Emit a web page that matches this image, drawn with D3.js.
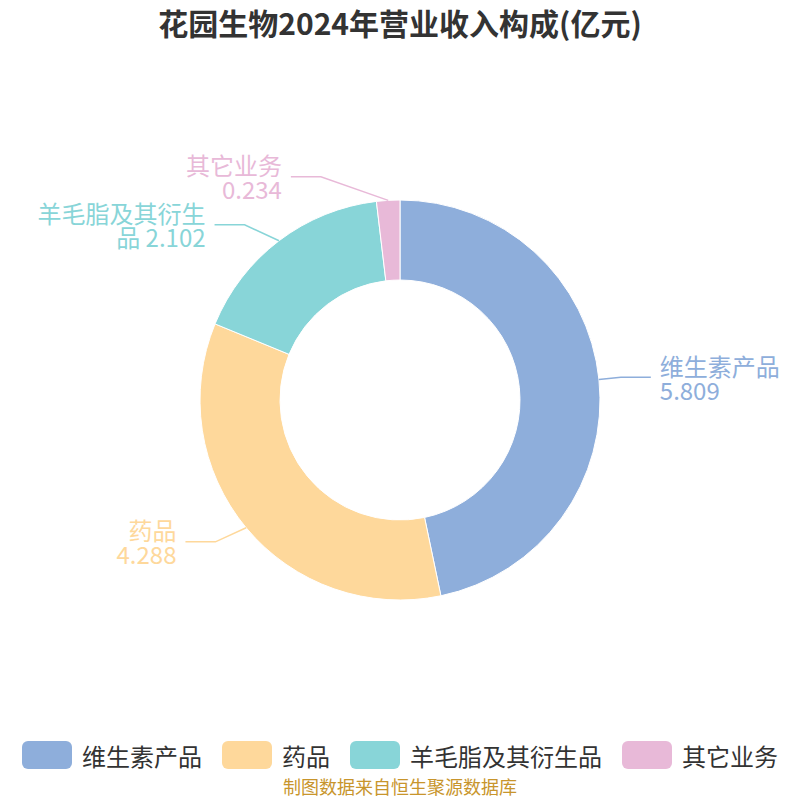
<!DOCTYPE html>
<html>
<head>
<meta charset="utf-8">
<script src="https://cdn.jsdelivr.net/npm/d3@7"></script>
<style>
  body { margin: 0; background: #fff; }
  text { font-family: "Noto Sans CJK SC", "Noto Sans", sans-serif; }
</style>
</head>
<body>
<div id="chart"></div>
<script>
// data
var categories = ["维生素产品", "药品", "羊毛脂及其衍生品", "其它业务"];
var values = [5.809, 4.288, 2.102, 0.234];
var colors = ["#8eaedb", "#fed89b", "#88d5d8", "#e8b9d8"];
var titleText = "花园生物2024年营业收入构成(亿元)";
var sourceText = "制图数据来自恒生聚源数据库";

var width = 800, height = 800, cx = 400, cy = 400;
var outerR = 200, innerR = 120, lineR = 222, len2 = 30, lineH = 24;

var data = categories.map(function(c, i) { return {name: c, value: values[i], color: colors[i]}; });

var svg = d3.select("#chart").append("svg")
  .attr("width", width)
  .attr("height", height);

svg.append("text")
  .attr("x", width / 2)
  .attr("y", 22)
  .attr("text-anchor", "middle")
  .attr("dominant-baseline", "central")
  .style("font-size", "30px")
  .style("font-weight", "bold")
  .style("fill", "#333")
  .text(titleText);

var pie = d3.pie().sort(null).value(function(d) { return d.value; });
var arc = d3.arc().innerRadius(innerR).outerRadius(outerR);
var arcs = pie(data);

var g = svg.append("g").attr("transform", "translate(" + cx + "," + cy + ")");
g.selectAll(".slice")
  .data(arcs)
  .enter().append("path")
    .attr("class", "slice")
    .attr("d", arc)
    .attr("fill", function(d) { return d.data.color; })
    .attr("stroke", "#fff")
    .attr("stroke-width", 1);

// label layout
var labels = arcs.map(function(d) {
  var mid = (d.startAngle + d.endAngle) / 2;
  var s = Math.sin(mid), c = Math.cos(mid);
  var name = d.data.name, lines;
  if (name.length > 7) lines = [name.slice(0, 7), name.slice(7) + " " + d.data.value];
  else lines = [name, String(d.data.value)];
  return {
    d: d, lines: lines, side: s >= 0 ? 1 : -1,
    x0: outerR * s, y0: -outerR * c,
    x1: lineR * s, y1: -lineR * c,
    y: -lineR * c, h: lines.length * lineH
  };
});

[1, -1].forEach(function(side) {
  var items = labels.filter(function(l) { return l.side == side; })
    .sort(function(a, b) { return a.y - b.y; });
  var shifted = false;
  for (var it = 0; it < 20; it++) {
    for (var i = 1; i < items.length; i++) {
      var gap = (items[i - 1].h + items[i].h) / 2;
      var over = items[i - 1].y + gap - items[i].y;
      if (over > 0.01) {
        items[i - 1].y -= over / 2;
        items[i].y += over / 2;
        shifted = true;
      }
    }
  }
  if (shifted) {
    var maxDy = d3.max(items, function(l) { return Math.abs(l.y); });
    var rB = Math.max(lineR, maxDy) * 1.065;
    items.forEach(function(l) {
      l.x1 = side * Math.sqrt(Math.max(0, 1 - l.y * l.y / (rB * rB))) * (lineR + 8);
      l.y1 = l.y;
    });
  }
});

var labelG = g.selectAll(".label")
  .data(labels)
  .enter().append("g")
    .attr("class", "label");

labelG.append("polyline")
  .attr("points", function(l) {
    return [[l.x0, l.y0], [l.x1, l.y1], [l.x1 + l.side * len2, l.y1]].join(" ");
  })
  .attr("fill", "none")
  .attr("stroke", function(l) { return l.d.data.color; })
  .attr("stroke-width", 1.5);

labelG.selectAll(".lbl")
  .data(function(l) {
    return l.lines.map(function(t, i) {
      return {t: t, l: l, y: l.y1 + (i - (l.lines.length - 1) / 2) * lineH};
    });
  })
  .enter().append("text")
    .attr("class", "lbl")
    .attr("x", function(t) { return t.l.x1 + t.l.side * (len2 + 9); })
    .attr("y", function(t) { return t.y; })
    .attr("text-anchor", function(t) { return t.l.side > 0 ? "start" : "end"; })
    .attr("dominant-baseline", "central")
    .style("font-size", "24px")
    .style("fill", function(t) { return t.l.d.data.color; })
    .text(function(t) { return t.t; });

// legend
var legend = svg.append("g").attr("class", "legend");
var items = legend.selectAll(".item")
  .data(data)
  .enter().append("g")
    .attr("class", "item");
items.append("rect")
  .attr("width", 50)
  .attr("height", 28)
  .attr("rx", 6)
  .attr("y", -14)
  .attr("fill", function(d) { return d.color; });
items.append("text")
  .attr("x", 60)
  .attr("dominant-baseline", "central")
  .style("font-size", "24px")
  .style("fill", "#333")
  .text(function(d) { return d.name; });

var xPos = 0, offsets = [];
items.each(function() {
  offsets.push(xPos);
  xPos += 60 + this.querySelector("text").getComputedTextLength() + 20;
});
var total = xPos - 20, startX = (width - total) / 2;
items.attr("transform", function(d, i) { return "translate(" + (startX + offsets[i]) + ",755)"; });

svg.append("text")
  .attr("x", width / 2)
  .attr("y", 786)
  .attr("text-anchor", "middle")
  .attr("dominant-baseline", "central")
  .style("font-size", "18px")
  .style("fill", "#c8952c")
  .text(sourceText);
</script>
</body>
</html>
